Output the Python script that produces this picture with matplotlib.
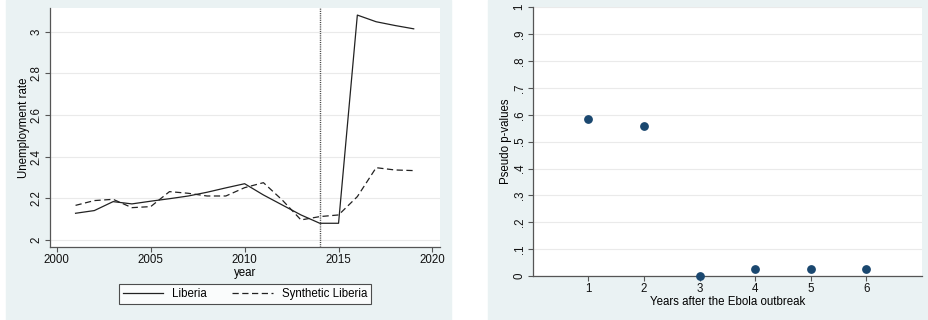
import numpy as np
import matplotlib.pyplot as plt
from matplotlib.patches import Rectangle

years = [2001, 2002, 2003, 2004, 2005, 2006, 2007, 2008, 2009, 2010,
         2011, 2012, 2013, 2014, 2015, 2016, 2017, 2018, 2019]
liberia = [2.128, 2.141, 2.184, 2.173, 2.186, 2.198, 2.211, 2.229, 2.250, 2.270,
           2.216, 2.168, 2.120, 2.080, 2.080, 3.080, 3.048, 3.030, 3.014]
synthetic = [2.166, 2.189, 2.195, 2.155, 2.160, 2.232, 2.224, 2.211, 2.211, 2.251,
             2.275, 2.192, 2.096, 2.112, 2.120, 2.208, 2.347, 2.336, 2.333]
outbreak_year = 2014

years_after = [1, 2, 3, 4, 5, 6]
pvalues = [0.584, 0.560, 0.0, 0.025, 0.025, 0.025]

plt.rcParams['font.family'] = ['Liberation Sans', 'DejaVu Sans']
plt.rcParams['font.size'] = 8.3

bg = '#eaf2f3'
axis_col = '#555555'
grid_col = '#eaeaea'
navy = '#1a476f'

fig = plt.figure(figsize=(9.29, 3.2), dpi=100)
fig.patches.append(Rectangle((6 / 929, 0), 445 / 929, 1, transform=fig.transFigure,
                             color=bg, zorder=-1))
fig.patches.append(Rectangle((488 / 929, 0), 441 / 929, 1, transform=fig.transFigure,
                             color=bg, zorder=-1))


def style(ax):
    ax.set_facecolor('white')
    for s in ['top', 'right']:
        ax.spines[s].set_visible(False)
    for s in ['left', 'bottom']:
        ax.spines[s].set_color(axis_col)
        ax.spines[s].set_linewidth(0.9)
    ax.tick_params(colors=axis_col, labelcolor='#111111', length=3.6, width=0.8, pad=1.5)
    ax.tick_params(axis='y', labelrotation=90)
    for lab in ax.get_yticklabels():
        lab.set_va('center')
    ax.yaxis.grid(True, color=grid_col, lw=0.8)
    ax.set_axisbelow(True)


# left: unemployment rate, Liberia vs synthetic
ax1 = fig.add_axes([50 / 929, 73 / 320, 390 / 929, 239 / 320])
ax1.plot(years, liberia, color='#222222', lw=0.9, label='Liberia')
ax1.plot(years, synthetic, color='#222222', lw=0.9, dashes=(5, 2.8),
         label='Synthetic Liberia')
ax1.axvline(outbreak_year, color='#444444', lw=1.0, dashes=(0.8, 0.8))
ax1.set_xlim(1999.64, 2020.4)
ax1.set_ylim(1.966, 3.114)
ax1.set_xticks([2000, 2005, 2010, 2015, 2020])
ax1.set_yticks([2, 2.2, 2.4, 2.6, 2.8, 3])
ax1.set_yticklabels(['2', '2.2', '2.4', '2.6', '2.8', '3'])
ax1.set_xlabel('year', labelpad=1)
ax1.set_ylabel('Unemployment rate', labelpad=1)
style(ax1)
leg = ax1.legend(loc='center', bbox_to_anchor=(0.5, -0.197), ncol=2,
                 frameon=True, fancybox=False, handlelength=3.5,
                 columnspacing=2.2, borderpad=0.35, handletextpad=0.8)
leg.get_frame().set_edgecolor('#222222')
leg.get_frame().set_linewidth(0.8)

# right: pseudo p-values by year after the outbreak
ax2 = fig.add_axes([532.7 / 929, 44 / 320, 389.3 / 929, 268.7 / 320])
ax2.scatter(years_after, pvalues, s=28, color=navy, zorder=3, clip_on=False)
ax2.set_xlim(0, 7)
ax2.set_ylim(0, 1)
ax2.set_xticks(years_after)
yt = np.round(np.arange(0, 1.01, 0.1), 1)
ax2.set_yticks(yt)
ax2.set_yticklabels(['0'] + ['.%d' % int(round(v * 10)) for v in yt[1:-1]] + ['1'])
ax2.set_xlabel('Years after the Ebola outbreak', labelpad=1)
ax2.set_ylabel('Pseudo p-values', labelpad=1)
style(ax2)

fig.savefig('out.png', dpi=100)
